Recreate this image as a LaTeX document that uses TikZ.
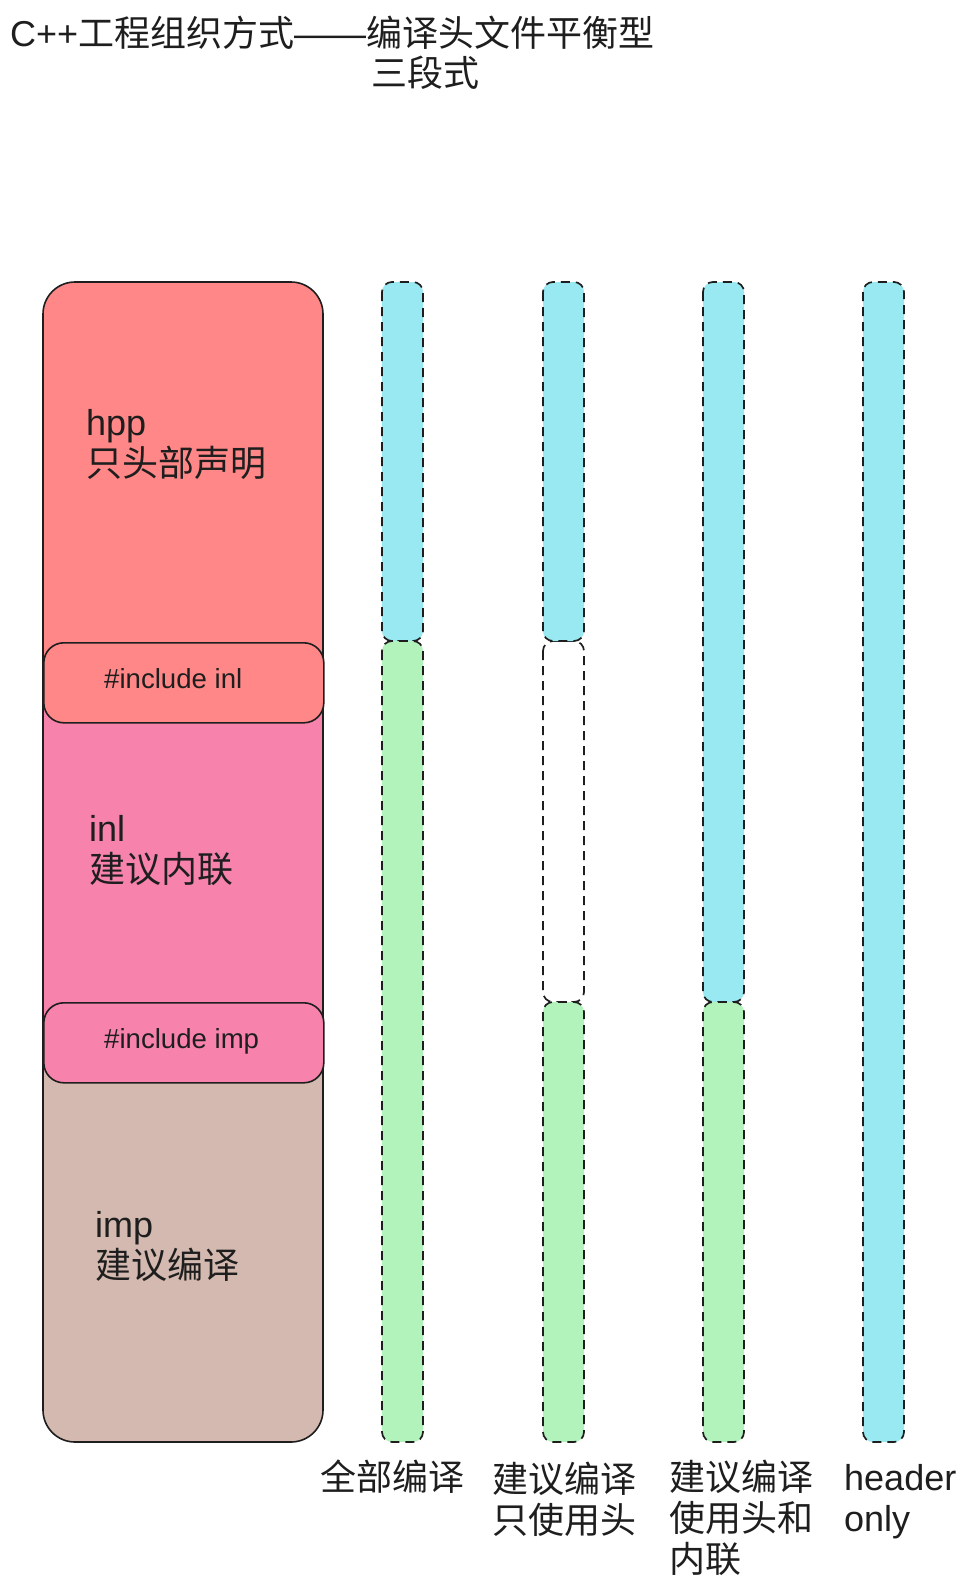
\documentclass[tikz,border=0pt]{standalone}
\usepackage{fontspec}
\setmainfont{Liberation Sans}
\newfontfamily\cjk{Noto Sans CJK SC}
\definecolor{ink}{HTML}{1E1E1E}
\definecolor{hppc}{HTML}{FF8787}
\definecolor{inlc}{HTML}{F783AC}
\definecolor{impc}{HTML}{D3B9AF}
\definecolor{cyanc}{HTML}{99E9F2}
\definecolor{greenc}{HTML}{B2F2BB}
\begin{document}
\begin{tikzpicture}[x=1pt,y=-1pt,
  lbl/.style={anchor=base west, inner sep=0pt, text=ink, font=\fontsize{36}{41}\selectfont},
  smalllbl/.style={anchor=base west, inner sep=0pt, text=ink, font=\fontsize{27.6}{33}\selectfont},
  seg/.style={draw=ink, line width=1.7pt, dash pattern=on 9pt off 6pt, rounded corners=10pt},
  incbox/.style={draw=ink, line width=1.6pt, rounded corners=20pt, anchor=north west,
     minimum width=280pt, minimum height=80pt, inner sep=0pt}]
\useasboundingbox[fill=white] (0,0) rectangle (964,1588);

% title
\node[lbl] (t1) at (10,46) {C++{\cjk 工程组织方式}——{\cjk 编译头文件平衡型}};
\node[lbl] (t2) at (371,86) {\cjk 三段式};

% big stacked box
\begin{scope}
  \clip[rounded corners=32pt] (43,282) rectangle (323,1442);
  \fill[hppc] (43,282) rectangle (323,682);
  \fill[inlc] (43,682) rectangle (323,1042);
  \fill[impc] (43,1042) rectangle (323,1442);
\end{scope}
\draw[ink, line width=1.6pt, rounded corners=32pt] (43,282) rectangle (323,1442);
\node[incbox, fill=hppc] (incinl) at (43,642) {};
\node[incbox, fill=inlc] (incimp) at (43,1002) {};

\node[lbl] (hppA) at (86,435) {hpp};
\node[lbl] (hppB) at (86,476) {\cjk 只头部声明};
\node[smalllbl] (incinlT) at (104,688) {\#include inl};
\node[lbl] (inlA) at (89,841) {inl};
\node[lbl] (inlB) at (89,882) {\cjk 建议内联};
\node[smalllbl] (incimpT) at (104,1048) {\#include imp};
\node[lbl] (impA) at (95,1237) {imp};
\node[lbl] (impB) at (95,1278) {\cjk 建议编译};

% column 1: all compiled
\draw[seg, fill=cyanc] (382,282) rectangle (423,641);
\draw[seg, fill=greenc] (382,641) rectangle (423,1442);
% column 2
\draw[seg] (543,641) rectangle (584,1002);
\draw[seg, fill=cyanc] (543,282) rectangle (584,641);
\draw[seg, fill=greenc] (543,1002) rectangle (584,1442);
% column 3
\draw[seg, fill=cyanc] (703,282) rectangle (744,1002);
\draw[seg, fill=greenc] (703,1002) rectangle (744,1442);
% column 4
\draw[seg, fill=cyanc] (863,282) rectangle (904,1442);

% bottom labels
\node[lbl] (c1) at (320,1490) {\cjk 全部编译};
\node[lbl] (c2a) at (492,1492) {\cjk 建议编译};
\node[lbl] (c2b) at (492,1533) {\cjk 只使用头};
\node[lbl] (c3a) at (669,1490) {\cjk 建议编译};
\node[lbl] (c3b) at (669,1531) {\cjk 使用头和};
\node[lbl] (c3c) at (669,1572) {\cjk 内联};
\node[lbl] (c4a) at (844,1490) {header};
\node[lbl] (c4b) at (844,1531) {only};
\end{tikzpicture}
\end{document}
